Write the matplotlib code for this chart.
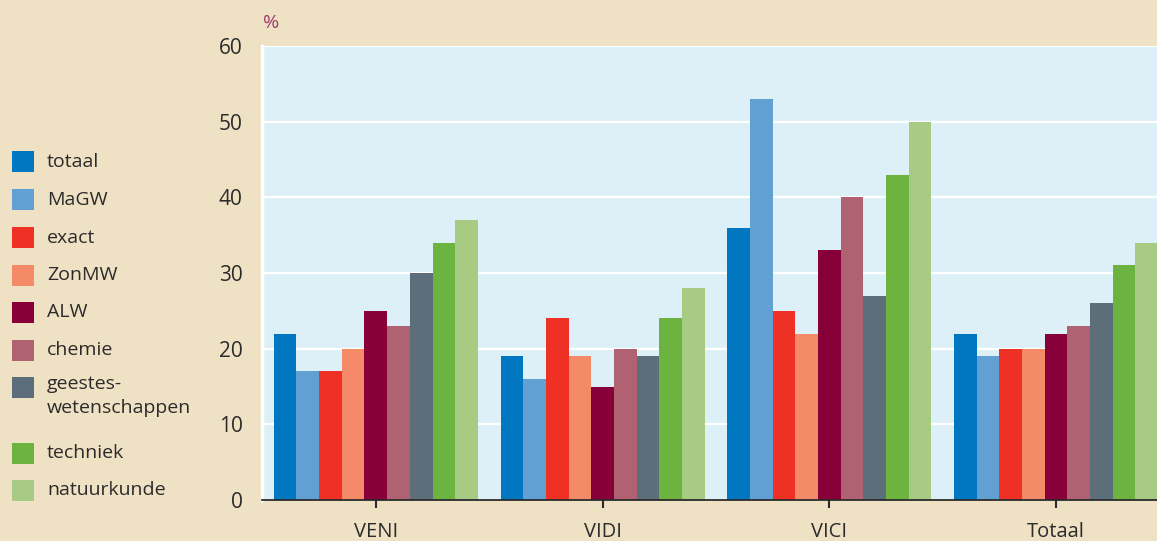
import matplotlib
matplotlib.use("Agg")
import matplotlib.pyplot as plt
from matplotlib.patches import Rectangle
import numpy as np

plt.rcParams['font.family'] = ['Open Sans', 'DejaVu Sans']

groups = ["VENI", "VIDI", "VICI", "Totaal"]
series = ["totaal", "MaGW", "exact", "ZonMW", "ALW", "chemie",
          "geestes-\nwetenschappen", "techniek", "natuurkunde"]
colors = ["#0077c0", "#62a0d4", "#ee3124", "#f58a68", "#870038",
          "#b06272", "#5b6e7a", "#6db33f", "#a7cb83"]

totaal = [22, 19, 36, 22]
magw = [17, 16, 53, 19]
exact = [17, 24, 25, 20]
zonmw = [20, 19, 22, 20]
alw = [25, 15, 33, 22]
chemie = [23, 20, 40, 23]
geestes = [30, 19, 27, 26]
techniek = [34, 24, 43, 31]
natuurkunde = [37, 28, 50, 34]
values = [totaal, magw, exact, zonmw, alw, chemie, geestes, techniek, natuurkunde]

yticks = [0, 10, 20, 30, 40, 50, 60]

W, H = 1157, 541
bg = "#efe1c4"
fig = plt.figure(figsize=(W / 100, H / 100), dpi=100, facecolor=bg)
ax = fig.add_axes([262 / W, (H - 500) / H, 1 - 262 / W, 454 / H])
ax.set_facecolor("#ddf0f7")

x = np.arange(len(groups))
bw = 0.1
for j, (vals, c) in enumerate(zip(values, colors)):
    ax.bar(x + (j - 4) * bw, vals, width=bw, color=c, zorder=3, linewidth=0)

ax.set_xlim(-0.502, 3.445)
ax.set_ylim(0, 60)
ax.set_yticks(yticks)
ax.yaxis.grid(True, color="white", linewidth=1.6, zorder=1)
ax.set_axisbelow(True)
ax.tick_params(axis="y", length=0, pad=14, labelsize=15, labelcolor="#2b2b2b")
ax.set_xticks(x)
ax.set_xticklabels(groups)
ax.tick_params(axis="x", direction="inout", length=12, width=1.5, color="#2b2b2b",
               pad=10, labelsize=14.5, labelcolor="#2b2b2b")
for s in ["top", "right"]:
    ax.spines[s].set_visible(False)
ax.spines["left"].set_color("white")
ax.spines["left"].set_linewidth(2.5)
ax.spines["bottom"].set_color("#2b2b2b")
ax.spines["bottom"].set_linewidth(1.3)
ax.spines["bottom"].set_zorder(4)

fig.text(263 / W, 1 - 23 / H, "%", color="#a03a6a", fontsize=14, va="center", ha="left")

# legend
rows = [162, 200, 238, 275, 312, 350, 387, 453, 490]
for lab, c, yc in zip(series, colors, rows):
    fig.patches.append(Rectangle((12 / W, 1 - (yc + 10.5) / H), 22 / W, 21 / H,
                                 transform=fig.transFigure, facecolor=c,
                                 edgecolor="none"))
    fig.text(47 / W, 1 - yc / H, lab, fontsize=14, color="#2b2b2b",
             va="top" if "\n" in lab else "center", ha="left",
             linespacing=1.45)
    if "\n" in lab:
        fig.texts[-1].set_y(1 - (yc - 12) / H)

fig.savefig("out.png", dpi=100, facecolor=bg)
